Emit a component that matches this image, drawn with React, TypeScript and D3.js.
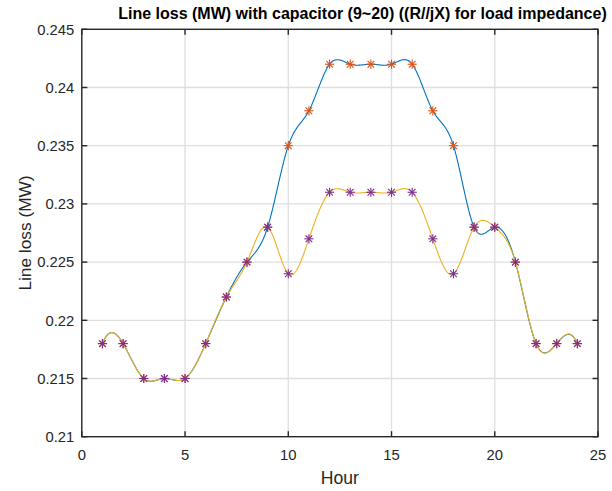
import React from "react";
import * as d3 from "d3";

const hours = [1,2,3,4,5,6,7,8,9,10,11,12,13,14,15,16,17,18,19,20,21,22,23,24];
const lossNoCap = [0.218,0.218,0.215,0.215,0.215,0.218,0.222,0.225,0.228,0.235,0.238,0.242,0.242,0.242,0.242,0.242,0.238,0.235,0.228,0.228,0.225,0.218,0.218,0.218];
const lossCap = [0.218,0.218,0.215,0.215,0.215,0.218,0.222,0.225,0.228,0.224,0.227,0.231,0.231,0.231,0.231,0.231,0.227,0.224,0.228,0.228,0.225,0.218,0.218,0.218];
const xTicks = [0,5,10,15,20,25];
const yTicks = [0.21,0.215,0.22,0.225,0.23,0.235,0.24,0.245];
const yTickLabels = ["0.21","0.215","0.22","0.225","0.23","0.235","0.24","0.245"];
const titleText = "Line loss (MW) with capacitor (9~20) ((R//jX) for load impedance)";
const xLabel = "Hour";
const yLabel = "Line loss (MW)";

// MATLAB-style not-a-knot cubic spline
function spline(xs: number[], ys: number[], step: number): [number, number][] {
  const n = xs.length;
  const h: number[] = [];
  for (let i = 0; i < n - 1; i++) h.push(xs[i + 1] - xs[i]);
  const A: number[][] = Array.from({ length: n }, () => new Array(n + 1).fill(0));
  A[0][0] = h[1]; A[0][1] = -(h[0] + h[1]); A[0][2] = h[0];
  for (let i = 1; i < n - 1; i++) {
    A[i][i - 1] = h[i - 1];
    A[i][i] = 2 * (h[i - 1] + h[i]);
    A[i][i + 1] = h[i];
    A[i][n] = 6 * ((ys[i + 1] - ys[i]) / h[i] - (ys[i] - ys[i - 1]) / h[i - 1]);
  }
  A[n - 1][n - 3] = h[n - 2]; A[n - 1][n - 2] = -(h[n - 3] + h[n - 2]); A[n - 1][n - 1] = h[n - 3];
  for (let c = 0; c < n; c++) {
    let p = c;
    for (let r = c + 1; r < n; r++) if (Math.abs(A[r][c]) > Math.abs(A[p][c])) p = r;
    [A[c], A[p]] = [A[p], A[c]];
    for (let r = 0; r < n; r++) {
      if (r === c) continue;
      const f = A[r][c] / A[c][c];
      if (f === 0) continue;
      for (let k = c; k <= n; k++) A[r][k] -= f * A[c][k];
    }
  }
  const M = A.map((row, i) => row[n] / row[i]);
  const out: [number, number][] = [];
  for (let i = 0; i < n - 1; i++) {
    const hi = h[i];
    const steps = Math.round(hi / step);
    for (let s = 0; s < steps; s++) {
      const t = (s / steps) * hi;
      const a = hi - t;
      const v = (M[i] * a * a * a) / (6 * hi) + (M[i + 1] * t * t * t) / (6 * hi)
        + (ys[i] / hi - (M[i] * hi) / 6) * a + (ys[i + 1] / hi - (M[i + 1] * hi) / 6) * t;
      out.push([xs[i] + t, v]);
    }
  }
  out.push([xs[n - 1], ys[n - 1]]);
  return out;
}

const W = 612, H = 491;
const left = 81.8, right = 598, top = 29.3, bottom = 436.7;
const font = "'Liberation Sans', Arial, Helvetica, sans-serif";
const axisColor = "#262626";

function Star({ x, y, color }: { x: number; y: number; color: string }) {
  const r = 4.6;
  const d = r * 0.72;
  return (
    <g stroke={color} strokeWidth={1.1} fill="none">
      <line x1={x - r} y1={y} x2={x + r} y2={y} />
      <line x1={x} y1={y - r} x2={x} y2={y + r} />
      <line x1={x - d} y1={y - d} x2={x + d} y2={y + d} />
      <line x1={x - d} y1={y + d} x2={x + d} y2={y - d} />
    </g>
  );
}

export default function App() {
  const xs = d3.scaleLinear().domain([0, 25]).range([left, right]);
  const ys = d3.scaleLinear().domain([0.21, 0.245]).range([bottom, top]);
  const line = d3.line<[number, number]>().x(d => xs(d[0])).y(d => ys(d[1]));
  const c1 = spline(hours, lossNoCap, 0.02);
  const c2 = spline(hours, lossCap, 0.02);
  const tl = 5.5;
  return (
    <svg width={W} height={H} style={{ position: "fixed", left: 0, top: 0, background: "#fff" }} fontFamily={font}>
      <rect x={0} y={0} width={W} height={H} fill="#fff" />
      <g stroke="#dfdfdf" strokeWidth={1.3}>
        {xTicks.slice(1, -1).map(t => (
          <line key={"gx" + t} x1={xs(t)} x2={xs(t)} y1={top} y2={bottom} />
        ))}
        {yTicks.slice(1, -1).map(t => (
          <line key={"gy" + t} x1={left} x2={right} y1={ys(t)} y2={ys(t)} />
        ))}
      </g>
      <path d={line(c1) || ""} fill="none" stroke="#0072BD" strokeWidth={1.1} />
      {hours.map((h, i) => <Star key={"a" + i} x={xs(h)} y={ys(lossNoCap[i])} color="#D95319" />)}
      <path d={line(c2) || ""} fill="none" stroke="#EDB120" strokeWidth={1.1} />
      {hours.map((h, i) => <Star key={"b" + i} x={xs(h)} y={ys(lossCap[i])} color="#7E2F8E" />)}
      <g stroke={axisColor} strokeWidth={1.4} fill="none">
        <rect x={left} y={top} width={right - left} height={bottom - top} />
        {xTicks.map(t => (
          <g key={"tx" + t}>
            <line x1={xs(t)} x2={xs(t)} y1={bottom} y2={bottom - tl} />
            <line x1={xs(t)} x2={xs(t)} y1={top} y2={top + tl} />
          </g>
        ))}
        {yTicks.map(t => (
          <g key={"ty" + t}>
            <line x1={left} x2={left + tl} y1={ys(t)} y2={ys(t)} />
            <line x1={right} x2={right - tl} y1={ys(t)} y2={ys(t)} />
          </g>
        ))}
      </g>
      <g fill={axisColor} fontSize={14.8}>
        {xTicks.map(t => (
          <text key={"lx" + t} x={xs(t)} y={bottom + 23.3} textAnchor="middle">{t}</text>
        ))}
        {yTicks.map((t, i) => (
          <text key={"ly" + t} x={left - 7.5} y={ys(t) + 5.3} textAnchor="end">{yTickLabels[i]}</text>
        ))}
      </g>
      <text x={(left + right) / 2} y={484} textAnchor="middle" fontSize={17.6} fill={axisColor}>{xLabel}</text>
      <text transform={`translate(${30.5},${(top + bottom) / 2}) rotate(-90)`} textAnchor="middle" fontSize={17.3} fill={axisColor}>{yLabel}</text>
      <text x={362.5} y={19} textAnchor="middle" fontSize={16} fontWeight="bold" fill="#000">{titleText}</text>
    </svg>
  );
}
